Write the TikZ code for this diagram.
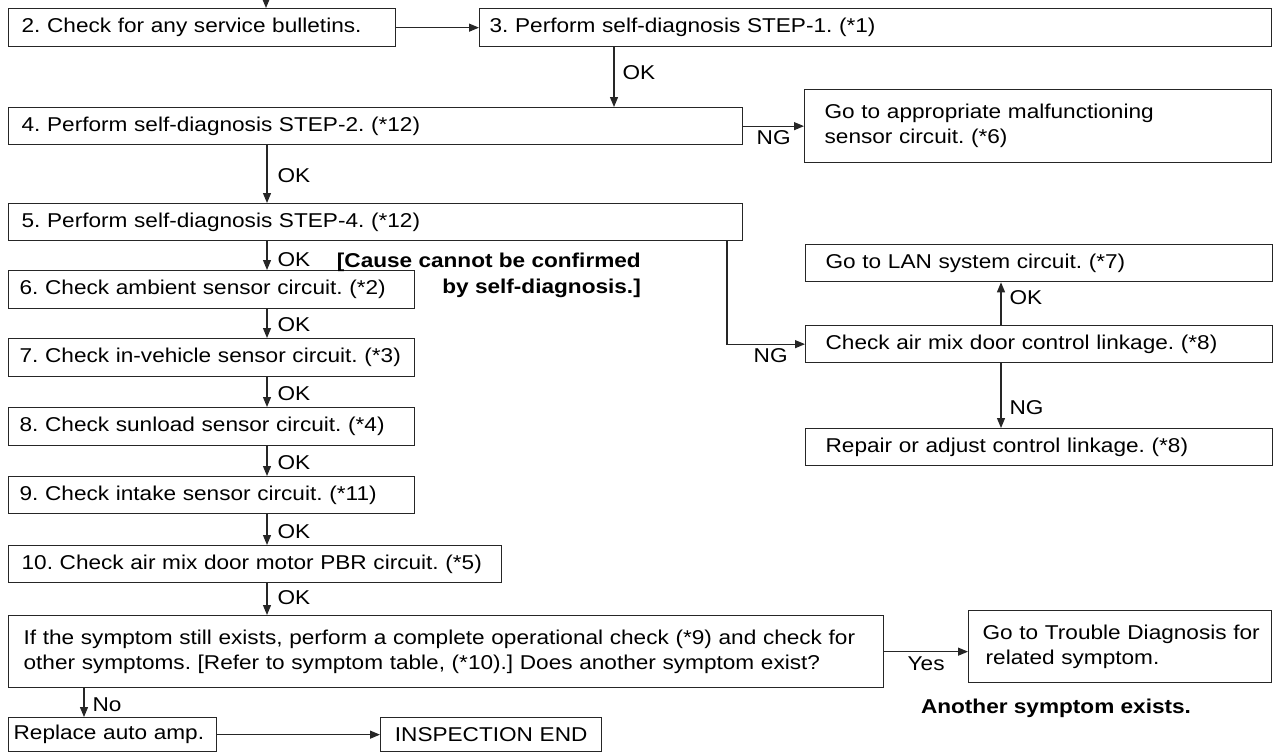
\documentclass[tikz,border=0pt]{standalone}
\usepackage{fontspec}
\setmainfont{Liberation Sans}[FakeStretch=1.13]
\usetikzlibrary{arrows.meta,positioning}
\frenchspacing

\begin{document}
\begin{tikzpicture}[
    x=1pt, y=-1pt,
    font=\fontsize{20}{25}\selectfont,
    stepbox/.style={
        draw=black!85,
        line width=1.3pt,
        anchor=north west,
        align=left,
        inner xsep=13pt,
        inner ysep=2pt,
        minimum height=37pt
    },
    lbl/.style={inner sep=2pt},
    note/.style={
        font=\fontsize{20}{26}\selectfont\bfseries,
        inner sep=0pt
    },
    arr/.style={line width=1.2pt, draw=black!85, -{Triangle[length=10pt,width=8pt]}}
]
\useasboundingbox (0,0) rectangle (1273,752);

% left column
\node[stepbox, text width=361pt, minimum height=38pt] (b2) at (8,8) {2. Check for any service bulletins.};
\node[stepbox, text width=772pt, inner xsep=10pt, minimum height=38pt] (b3) at (479,8) {3. Perform self-diagnosis STEP-1. (*1)};
\node[stepbox, text width=708pt] (b4) at (8,107) {4. Perform self-diagnosis STEP-2. (*12)};
\node[stepbox, text width=708pt] (b5) at (8,203) {5. Perform self-diagnosis STEP-4. (*12)};
\node[stepbox, text width=384pt, inner xsep=11pt, minimum height=38pt] (b6) at (8,270) {6. Check ambient sensor circuit. (*2)};
\node[stepbox, text width=384pt, inner xsep=11pt, minimum height=38pt] (b7) at (8,338) {7. Check in-vehicle sensor circuit. (*3)};
\node[stepbox, text width=384pt, inner xsep=11pt, minimum height=38pt] (b8) at (8,407) {8. Check sunload sensor circuit. (*4)};
\node[stepbox, text width=384pt, inner xsep=11pt] (b9) at (8,476) {9. Check intake sensor circuit. (*11)};
\node[stepbox, text width=467pt] (b10) at (8,545) {10. Check air mix door motor PBR circuit. (*5)};
\node[stepbox, text width=845pt, inner xsep=15pt, minimum height=72pt] (bq) at (8,615)
{If the symptom still exists, perform a complete operational check (*9) and check for\\other symptoms. [Refer to symptom table, (*10).] Does another symptom exist?};
\node[stepbox, text width=198pt, inner xsep=5pt, minimum height=34pt] (bamp) at (8,717) {Replace auto amp.};
\node[stepbox, text width=201pt, inner xsep=10pt, minimum height=34pt, align=center] (bend) at (380,717) {INSPECTION END};

% right column
\node[stepbox, text width=427pt, inner xsep=20pt, minimum height=73pt] (bmal) at (804,89)
{Go to appropriate malfunctioning\\sensor circuit. (*6)};
\node[stepbox, text width=427pt, inner xsep=20pt] (blan) at (805,244) {Go to LAN system circuit. (*7)};
\node[stepbox, text width=427pt, inner xsep=20pt] (blink) at (805,325) {Check air mix door control linkage. (*8)};
\node[stepbox, text width=427pt, inner xsep=20pt] (brep) at (805,428) {Repair or adjust control linkage. (*8)};
\node[stepbox, text width=283pt, inner xsep=10pt, minimum height=72pt] (btd) at (968,610)
{\hspace*{4pt}Go to Trouble Diagnosis for\\\hspace*{7pt}related symptom.};

% notes
\node[note, align=right, anchor=east] (cause) at (641,275) {[Cause cannot be confirmed\\by self-diagnosis.]};
\node[note] (another) at (1056,708) {Another symptom exists.};

% connectors
\coordinate (top) at (266,0);
\coordinate (c3) at (614,0);
\coordinate (cm) at (267,0);
\coordinate (cng) at (727,0);
\coordinate (cr) at (1001,0);
\coordinate (cno) at (84,0);

\draw[arr] (top) -- (top |- b2.north);
\draw[arr] (b2.east) -- (b3.west);
\draw[arr] (b3.south -| c3) -- node[lbl, right=6pt, pos=0.43] (ok3) {OK} (b4.north -| c3);
\draw[arr] (b4.east) -- node[lbl, below=2pt] (ng4) {NG} (bmal.west);
\draw[arr] (b4.south -| cm) -- node[lbl, right=8pt, pos=0.53] (ok4) {OK} (b5.north -| cm);
\draw[arr] (b5.south -| cm) -- node[lbl, right=8pt, pos=0.65] (ok5) {OK} (b6.north -| cm);
\draw[arr] (b6.south -| cm) -- node[lbl, right=8pt, pos=0.55] (ok6) {OK} (b7.north -| cm);
\draw[arr] (b7.south -| cm) -- node[lbl, right=8pt, pos=0.55] (ok7) {OK} (b8.north -| cm);
\draw[arr] (b8.south -| cm) -- node[lbl, right=8pt, pos=0.55] (ok8) {OK} (b9.north -| cm);
\draw[arr] (b9.south -| cm) -- node[lbl, right=8pt, pos=0.55] (ok9) {OK} (b10.north -| cm);
\draw[arr] (b10.south -| cm) -- node[lbl, right=8pt, pos=0.45] (ok10) {OK} (bq.north -| cm);
\draw[arr] (b5.south -| cng) |- node[lbl, below=2pt, pos=0.78] (ng5) {NG} (blink.west);
\draw[arr] (blink.north -| cr) -- node[lbl, right=6pt, pos=0.64] (oklan) {OK} (blan.south -| cr);
\draw[arr] (blink.south -| cr) -- node[lbl, right=6pt, pos=0.69] (nglink) {NG} (brep.north -| cr);
\draw[arr] (bq.east) -- node[lbl, below=2pt] (yes) {Yes} (bq.east -| btd.west);
\draw[arr] (bq.south -| cno) -- node[lbl, right=6pt, pos=0.58] (no) {No} (bamp.north -| cno);
\draw[arr] (bamp.east) -- (bend.west);

\end{tikzpicture}
\end{document}
